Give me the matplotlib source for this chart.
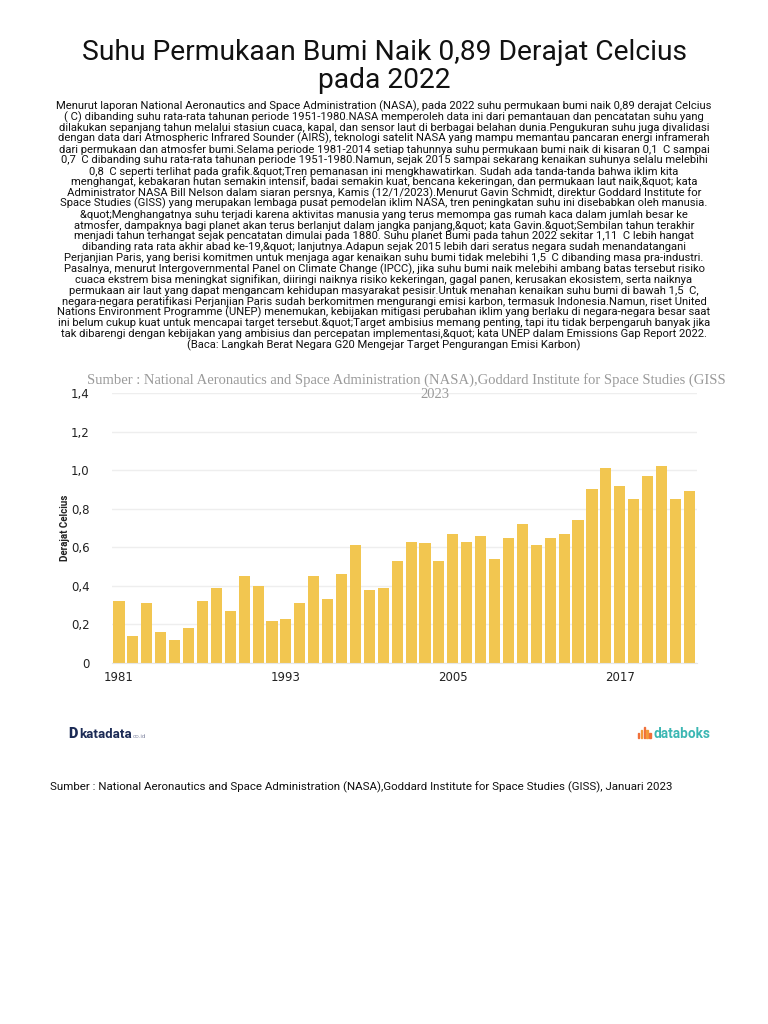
import matplotlib
matplotlib.use("Agg")
import matplotlib.pyplot as plt
from matplotlib.patches import Rectangle

years = list(range(1981, 2023))
values = [0.32, 0.14, 0.31, 0.16, 0.12, 0.18, 0.32, 0.39, 0.27, 0.45,
          0.40, 0.22, 0.23, 0.31, 0.45, 0.33, 0.46, 0.61, 0.38, 0.39,
          0.53, 0.63, 0.62, 0.53, 0.67, 0.63, 0.66, 0.54, 0.65, 0.72,
          0.61, 0.65, 0.67, 0.74, 0.90, 1.01, 0.92, 0.85, 0.97, 1.02,
          0.85, 0.89]
xtick_years = [1981, 1993, 2005, 2017]
yticks = [0, 0.2, 0.4, 0.6, 0.8, 1.0, 1.2, 1.4]
ytick_labels = ["0", "0,2", "0,4", "0,6", "0,8", "1,0", "1,2", "1,4"]

title_lines = ["Suhu Permukaan Bumi Naik 0,89 Derajat Celcius", "pada 2022"]
para_lines = [
    "Menurut laporan National Aeronautics and Space Administration (NASA), pada 2022 suhu permukaan bumi naik 0,89 derajat Celcius",
    "( C) dibanding suhu rata-rata tahunan periode 1951-1980.NASA memperoleh data ini dari pemantauan dan pencatatan suhu yang",
    "dilakukan sepanjang tahun melalui stasiun cuaca, kapal, dan sensor laut di berbagai belahan dunia.Pengukuran suhu juga divalidasi",
    "dengan data dari Atmospheric Infrared Sounder (AIRS), teknologi satelit NASA yang mampu memantau pancaran energi inframerah",
    "dari permukaan dan atmosfer bumi.Selama periode 1981-2014 setiap tahunnya suhu permukaan bumi naik di kisaran 0,1  C sampai",
    "0,7  C dibanding suhu rata-rata tahunan periode 1951-1980.Namun, sejak 2015 sampai sekarang kenaikan suhunya selalu melebihi",
    "0,8  C seperti terlihat pada grafik.&quot;Tren pemanasan ini mengkhawatirkan. Sudah ada tanda-tanda bahwa iklim kita",
    "menghangat, kebakaran hutan semakin intensif, badai semakin kuat, bencana kekeringan, dan permukaan laut naik,&quot; kata",
    "Administrator NASA Bill Nelson dalam siaran persnya, Kamis (12/1/2023).Menurut Gavin Schmidt, direktur Goddard Institute for",
    "Space Studies (GISS) yang merupakan lembaga pusat pemodelan iklim NASA, tren peningkatan suhu ini disebabkan oleh manusia.",
    "&quot;Menghangatnya suhu terjadi karena aktivitas manusia yang terus memompa gas rumah kaca dalam jumlah besar ke",
    "atmosfer, dampaknya bagi planet akan terus berlanjut dalam jangka panjang,&quot; kata Gavin.&quot;Sembilan tahun terakhir",
    "menjadi tahun terhangat sejak pencatatan dimulai pada 1880. Suhu planet Bumi pada tahun 2022 sekitar 1,11  C lebih hangat",
    "dibanding rata rata akhir abad ke-19,&quot; lanjutnya.Adapun sejak 2015 lebih dari seratus negara sudah menandatangani",
    "Perjanjian Paris, yang berisi komitmen untuk menjaga agar kenaikan suhu bumi tidak melebihi 1,5  C dibanding masa pra-industri.",
    "Pasalnya, menurut Intergovernmental Panel on Climate Change (IPCC), jika suhu bumi naik melebihi ambang batas tersebut risiko",
    "cuaca ekstrem bisa meningkat signifikan, diiringi naiknya risiko kekeringan, gagal panen, kerusakan ekosistem, serta naiknya",
    "permukaan air laut yang dapat mengancam kehidupan masyarakat pesisir.Untuk menahan kenaikan suhu bumi di bawah 1,5  C,",
    "negara-negara peratifikasi Perjanjian Paris sudah berkomitmen mengurangi emisi karbon, termasuk Indonesia.Namun, riset United",
    "Nations Environment Programme (UNEP) menemukan, kebijakan mitigasi perubahan iklim yang berlaku di negara-negara besar saat",
    "ini belum cukup kuat untuk mencapai target tersebut.&quot;Target ambisius memang penting, tapi itu tidak berpengaruh banyak jika",
    "tak dibarengi dengan kebijakan yang ambisius dan percepatan implementasi,&quot; kata UNEP dalam Emissions Gap Report 2022.",
    "(Baca: Langkah Berat Negara G20 Mengejar Target Pengurangan Emisi Karbon)",
]
chart_source = "Sumber : National Aeronautics and Space Administration (NASA),Goddard Institute for Space Studies (GISS"
chart_source2 = "2023"
bottom_source = "Sumber : National Aeronautics and Space Administration (NASA),Goddard Institute for Space Studies (GISS), Januari 2023"
ylabel = "Derajat Celcius"

W, H = 768, 1024
fig = plt.figure(figsize=(W / 100, H / 100), dpi=100)
fig.patch.set_facecolor("white")


def fy(py):
    return 1 - py / H


def fx(px):
    return px / W


# Title
fig.text(0.5, fy(53), title_lines[0], ha="center", va="center",
         fontsize=20.3, family="Roboto", color="#111111")
fig.text(0.5, fy(80), title_lines[1], ha="center", va="center",
         fontsize=20.3, family="Roboto", color="#111111")

# Paragraph
y0 = 106
dy = 10.86
for i, line in enumerate(para_lines):
    fig.text(0.5, fy(y0 + i * dy), line, ha="center", va="center",
             fontsize=8.15, family="Roboto", color="#111111")

# Axes
ax = fig.add_axes([fx(112), fy(663), fx(697) - fx(112), fy(393) - fy(663)])
ax.bar(years, values, width=0.8, color="#F2C650", zorder=2)
ax.set_xlim(1980.5, 2022.55)
ax.set_ylim(0, 1.4)
ax.set_yticks(yticks)
ax.set_yticklabels(ytick_labels, fontsize=8.5, family="DejaVu Sans", color="#222222")
ax.set_xticks(xtick_years)
ax.set_xticklabels([str(y) for y in xtick_years], fontsize=8.5,
                   family="DejaVu Sans", color="#222222")
ax.tick_params(axis="x", length=0, pad=6)
ax.tick_params(axis="y", length=0, pad=16)
for s in ["top", "right", "left"]:
    ax.spines[s].set_visible(False)
ax.spines["bottom"].set_color("#e6e6e6")
ax.grid(axis="y", color="#eeeeee", linewidth=1, zorder=0)
ax.set_axisbelow(True)
ax.set_ylabel(ylabel, fontsize=7, fontweight="bold", family="Roboto",
              color="#222222")
ax.yaxis.set_label_coords((70 - 112) / 585, 0.5)

# Chart source (grey serif)
fig.text(fx(87), fy(380), chart_source, ha="left", va="center",
         fontsize=10.5, family="Liberation Serif", color="#9a9a9a")
fig.text(fx(435), fy(395), chart_source2, ha="center", va="center",
         fontsize=10.5, family="Liberation Serif", color="#9a9a9a")

# Logos
fig.text(fx(68), fy(734), "D", ha="left", va="center", fontsize=10.5,
         fontweight="heavy", family="Roboto", color="#1b2a55")
fig.text(fx(79), fy(734), "katadata", ha="left", va="center", fontsize=9.5,
         fontweight="bold", family="Roboto", color="#1b2a55")
fig.text(fx(133), fy(736), "co.id", ha="left", va="center", fontsize=4.5,
         family="Roboto", color="#8a8fa8")
icon_h = [5, 8, 11, 8, 5]
for k, h in enumerate(icon_h):
    fig.patches.append(Rectangle((fx(638 + k * 2.8), fy(738)), fx(1.3), h / H,
                                 transform=fig.transFigure,
                                 color="#f0703a" if k % 2 == 0 else "#f39a3a"))
fig.text(fx(653), fy(734), "databoks", ha="left", va="center", fontsize=9.8,
         fontweight="bold", family="Roboto", color="#3bb7b3")

# Bottom source
fig.text(fx(50), fy(787), bottom_source, ha="left", va="center",
         fontsize=8.24, family="Roboto", color="#111111")

fig.savefig("out.png", dpi=100, facecolor="white")
